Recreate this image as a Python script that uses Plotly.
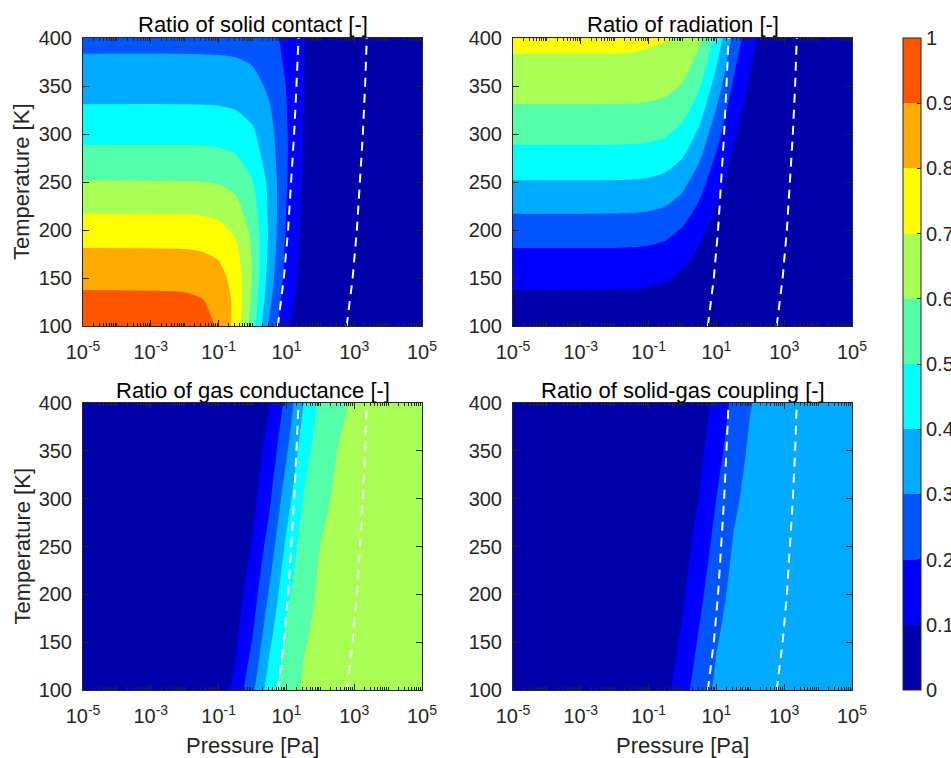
import numpy as np
import plotly.graph_objects as go

# ---------------- data ----------------
log10_pressure = [-5, -2, -1.5, -1, -0.5, 0, 0.5, 1, 1.5, 2, 2.5, 3, 5]
temperature = [100, 125, 150, 175, 200, 250, 300, 350, 400]

ratio_solid = [
    [0.960, 0.952, 0.936, 0.890, 0.769, 0.540, 0.281, 0.116, 0.046, 0.022, 0.014, 0.011, 0.010],
    [0.924, 0.919, 0.907, 0.871, 0.776, 0.577, 0.321, 0.138, 0.055, 0.025, 0.015, 0.011, 0.010],
    [0.876, 0.872, 0.863, 0.837, 0.762, 0.595, 0.353, 0.159, 0.063, 0.028, 0.016, 0.012, 0.010],
    [0.817, 0.814, 0.807, 0.787, 0.729, 0.592, 0.373, 0.176, 0.071, 0.030, 0.017, 0.012, 0.010],
    [0.749, 0.747, 0.742, 0.727, 0.683, 0.574, 0.383, 0.190, 0.078, 0.033, 0.017, 0.012, 0.010],
    [0.605, 0.603, 0.601, 0.593, 0.569, 0.505, 0.374, 0.207, 0.091, 0.038, 0.019, 0.013, 0.010],
    [0.469, 0.469, 0.468, 0.464, 0.451, 0.416, 0.335, 0.209, 0.099, 0.043, 0.021, 0.013, 0.010],
    [0.358, 0.358, 0.357, 0.355, 0.349, 0.330, 0.284, 0.197, 0.104, 0.046, 0.022, 0.014, 0.010],
    [0.272, 0.272, 0.271, 0.270, 0.267, 0.258, 0.231, 0.176, 0.103, 0.049, 0.023, 0.014, 0.010],
]

ratio_radiation = [
    [0.040, 0.040, 0.039, 0.037, 0.032, 0.023, 0.012, 0.005, 0.002, 0.001, 0.001, 0.000, 0.000],
    [0.076, 0.075, 0.074, 0.071, 0.063, 0.047, 0.026, 0.011, 0.005, 0.002, 0.001, 0.001, 0.001],
    [0.124, 0.123, 0.122, 0.118, 0.108, 0.084, 0.050, 0.022, 0.009, 0.004, 0.002, 0.002, 0.001],
    [0.183, 0.183, 0.181, 0.177, 0.164, 0.133, 0.084, 0.040, 0.016, 0.007, 0.004, 0.003, 0.002],
    [0.251, 0.250, 0.249, 0.243, 0.229, 0.192, 0.128, 0.064, 0.026, 0.011, 0.006, 0.004, 0.003],
    [0.395, 0.395, 0.393, 0.388, 0.372, 0.330, 0.244, 0.136, 0.059, 0.025, 0.013, 0.008, 0.007],
    [0.531, 0.530, 0.528, 0.524, 0.510, 0.470, 0.378, 0.236, 0.112, 0.048, 0.023, 0.015, 0.011],
    [0.642, 0.642, 0.641, 0.637, 0.626, 0.593, 0.509, 0.354, 0.186, 0.083, 0.040, 0.025, 0.018],
    [0.728, 0.728, 0.726, 0.718, 0.706, 0.684, 0.620, 0.472, 0.275, 0.130, 0.063, 0.038, 0.026],
]

ratio_gas = [
    [0.000, 0.005, 0.016, 0.047, 0.127, 0.280, 0.453, 0.563, 0.609, 0.625, 0.631, 0.632, 0.634],
    [0.000, 0.004, 0.012, 0.037, 0.103, 0.241, 0.417, 0.544, 0.602, 0.623, 0.630, 0.632, 0.633],
    [0.000, 0.003, 0.010, 0.029, 0.084, 0.206, 0.382, 0.524, 0.594, 0.620, 0.628, 0.632, 0.633],
    [0.000, 0.002, 0.008, 0.024, 0.069, 0.176, 0.348, 0.502, 0.584, 0.616, 0.627, 0.630, 0.632],
    [0.000, 0.002, 0.006, 0.019, 0.057, 0.150, 0.313, 0.477, 0.573, 0.612, 0.625, 0.630, 0.632],
    [0.000, 0.001, 0.004, 0.012, 0.038, 0.106, 0.244, 0.420, 0.544, 0.600, 0.620, 0.627, 0.630],
    [0.000, 0.001, 0.003, 0.008, 0.025, 0.072, 0.184, 0.355, 0.504, 0.582, 0.612, 0.622, 0.627],
    [0.000, 0.001, 0.002, 0.005, 0.016, 0.049, 0.133, 0.287, 0.455, 0.557, 0.600, 0.615, 0.622],
    [0.000, 0.000, 0.001, 0.004, 0.011, 0.034, 0.095, 0.226, 0.398, 0.526, 0.585, 0.607, 0.617],
]

ratio_coupling = [
    [0.000, 0.003, 0.009, 0.026, 0.071, 0.158, 0.255, 0.316, 0.343, 0.352, 0.355, 0.356, 0.356],
    [0.000, 0.002, 0.007, 0.021, 0.058, 0.135, 0.235, 0.306, 0.339, 0.350, 0.354, 0.356, 0.356],
    [0.000, 0.002, 0.005, 0.016, 0.047, 0.116, 0.215, 0.295, 0.334, 0.349, 0.354, 0.355, 0.356],
    [0.000, 0.001, 0.004, 0.013, 0.039, 0.099, 0.195, 0.283, 0.329, 0.347, 0.353, 0.355, 0.356],
    [0.000, 0.001, 0.003, 0.011, 0.032, 0.084, 0.176, 0.269, 0.322, 0.344, 0.352, 0.354, 0.355],
    [0.000, 0.001, 0.002, 0.007, 0.021, 0.059, 0.138, 0.237, 0.306, 0.337, 0.348, 0.352, 0.354],
    [0.000, 0.000, 0.001, 0.005, 0.014, 0.041, 0.103, 0.200, 0.284, 0.327, 0.344, 0.350, 0.352],
    [0.000, 0.000, 0.001, 0.003, 0.009, 0.028, 0.075, 0.162, 0.256, 0.314, 0.338, 0.346, 0.350],
    [0.000, 0.000, 0.001, 0.002, 0.006, 0.019, 0.053, 0.127, 0.224, 0.296, 0.329, 0.341, 0.347],
]

# white dashed reference lines (pressure in Pa vs temperature)
line_temperature = [100, 150, 200, 250, 300, 350, 400]
line1_pressure = [5.6, 8.4, 11.2, 14.0, 16.9, 19.8, 22.8]
line2_pressure = [600, 900, 1200, 1500, 1800, 2100, 2350]

panel_titles = [
    "Ratio of solid contact [-]",
    "Ratio of radiation [-]",
    "Ratio of gas conductance [-]",
    "Ratio of solid-gas coupling [-]",
]
panel_data = [ratio_solid, ratio_radiation, ratio_gas, ratio_coupling]

x_tick_exponents = [-5, -3, -1, 1, 3, 5]
y_ticks = [100, 150, 200, 250, 300, 350, 400]
cbar_ticks = [0, 0.1, 0.2, 0.3, 0.4, 0.5, 0.6, 0.7, 0.8, 0.9, 1]
cbar_ticktext = ["0", "0.1", "0.2", "0.3", "0.4", "0.5", "0.6", "0.7", "0.8", "0.9", "1"]

# ---------------- style ----------------
band_colors = ["#0000AA", "#0000FF", "#0055FF", "#00AAFF", "#00FFFF",
               "#55FFAA", "#AAFF55", "#FFFF00", "#FFAA00", "#FF5500"]
FONT = "Liberation Sans, Arial, Helvetica, sans-serif"
AX = "#262626"
W, H = 951, 758

# contour colour map: band i is evaluated at fraction i/9
contour_scale = [[i / 9, c] for i, c in enumerate(band_colors)]
# stepped scale for the shared colorbar
step_scale = []
for i, c in enumerate(band_colors):
    step_scale.append([i / 10, c])
    step_scale.append([(i + 1) / 10, c])

# panel boxes in pixels: (left, right, top, bottom)
boxes = [(83, 422, 38, 326), (513, 852, 38, 326),
         (83, 422, 403, 690), (513, 852, 403, 690)]

minor_vals = []
for n in range(-5, 5):
    for k in range(1, 10):
        v = n + np.log10(k)
        if k == 1 and n in x_tick_exponents:
            continue
        minor_vals.append(float(v))

fig = go.Figure()
layout = dict(
    width=W, height=H,
    margin=dict(l=0, r=0, t=0, b=0, autoexpand=False),
    paper_bgcolor="white", plot_bgcolor="white",
    showlegend=False,
    font=dict(family=FONT, color=AX),
)
annotations = []

for i, (z, title, box) in enumerate(zip(panel_data, panel_titles, boxes)):
    sfx = "" if i == 0 else str(i + 1)
    xa, ya = "x" + sfx, "y" + sfx
    l, r, t, b = box
    fig.add_trace(go.Contour(
        x=log10_pressure, y=temperature, z=z,
        xaxis=xa, yaxis=ya,
        colorscale=contour_scale, zmin=0, zmax=1,
        autocontour=False,
        contours=dict(start=0.1, end=0.9, size=0.1, coloring="fill", showlines=False),
        line=dict(width=0, smoothing=0.6),
        showscale=False, hoverinfo="skip",
    ))
    for p in (line1_pressure, line2_pressure):
        fig.add_trace(go.Scatter(
            x=list(np.log10(p)), y=line_temperature,
            xaxis=xa, yaxis=ya, mode="lines",
            line=dict(color="white", width=2, dash="9px,7px"),
            hoverinfo="skip",
        ))
    layout["xaxis" + sfx] = dict(
        domain=[l / W, r / W], anchor=ya, range=[-5, 5],
        tickmode="array", tickvals=x_tick_exponents,
        ticktext=["10<sup>%d</sup>" % e for e in x_tick_exponents],
        ticks="inside", ticklen=6, tickcolor=AX, tickwidth=1,
        minor=dict(tickvals=minor_vals, ticks="inside", ticklen=3, tickcolor=AX, showgrid=False),
        showline=True, linecolor=AX, linewidth=1, mirror="ticks",
        showgrid=False, zeroline=False,
        tickfont=dict(size=20, family=FONT, color=AX),
        ticklabelstandoff=8,
    )
    layout["yaxis" + sfx] = dict(
        domain=[1 - b / H, 1 - t / H], anchor=xa, range=[100, 400],
        tickmode="array", tickvals=y_ticks,
        ticks="inside", ticklen=6, tickcolor=AX, tickwidth=1,
        showline=True, linecolor=AX, linewidth=1, mirror="ticks",
        showgrid=False, zeroline=False,
        tickfont=dict(size=20, family=FONT, color=AX),
        ticklabelstandoff=6,
    )
    annotations.append(dict(
        text=title, xref="paper", yref="paper",
        x=(l + r) / 2 / W, y=1 - (t - 13) / H,
        xanchor="center", yanchor="middle", showarrow=False,
        font=dict(size=22, family=FONT, color="black"),
    ))
    if i in (0, 2):
        annotations.append(dict(
            text="Temperature [K]", xref="paper", yref="paper",
            x=22 / W, y=1 - (t + b) / 2 / H, textangle=-90,
            xanchor="center", yanchor="middle", showarrow=False,
            font=dict(size=22, family=FONT, color=AX),
        ))
    if i in (2, 3):
        annotations.append(dict(
            text="Pressure [Pa]", xref="paper", yref="paper",
            x=(l + r) / 2 / W, y=1 - 745 / H,
            xanchor="center", yanchor="middle", showarrow=False,
            font=dict(size=22, family=FONT, color=AX),
        ))

# shared colorbar
fig.add_trace(go.Scatter(
    x=[None], y=[None], mode="markers", xaxis="x", yaxis="y",
    marker=dict(color=[0.5], cmin=0, cmax=1, colorscale=step_scale, showscale=True,
                colorbar=dict(
                    x=903 / W, xanchor="left", y=1 - 38 / H, yanchor="top",
                    len=652, lenmode="pixels", thickness=18, thicknessmode="pixels",
                    xpad=0, ypad=0, outlinewidth=1, outlinecolor=AX,
                    tickmode="array", tickvals=cbar_ticks, ticktext=cbar_ticktext,
                    ticks="inside", ticklen=4, tickcolor=AX,
                    tickfont=dict(size=20, family=FONT, color=AX),
                )),
    hoverinfo="skip",
))

layout["annotations"] = annotations
fig.update_layout(**layout)
fig.write_html("out.html")
